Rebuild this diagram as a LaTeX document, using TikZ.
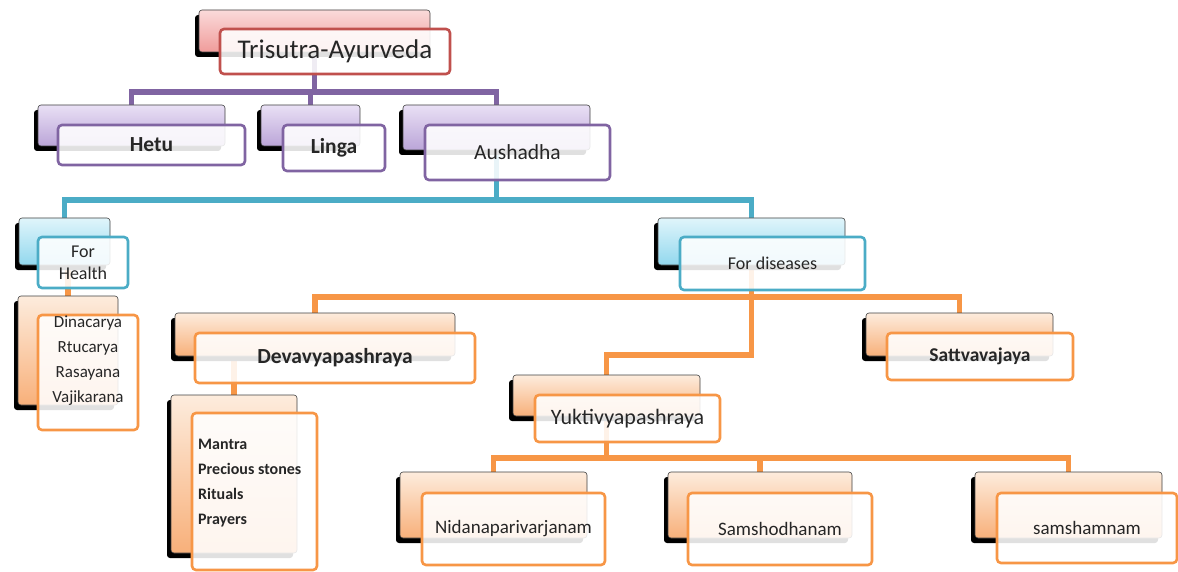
\documentclass[tikz,border=0pt]{standalone}
\usepackage{fontspec}
\setmainfont{Carlito}
\usetikzlibrary{shadows,fit}
\pgfdeclarelayer{background}
\pgfsetlayers{background,main}
\definecolor{cRed}{HTML}{C0504D}
\definecolor{cPur}{HTML}{8064A2}
\definecolor{cBlu}{HTML}{4BACC6}
\definecolor{cOra}{HTML}{F79646}
\definecolor{txt}{HTML}{262626}
\definecolor{tRed}{HTML}{FADADA}\definecolor{bRed}{HTML}{F09C9B}
\definecolor{tPur}{HTML}{E9E0F5}\definecolor{bPur}{HTML}{BBA5D8}
\definecolor{tBlu}{HTML}{E0F5FB}\definecolor{bBlu}{HTML}{92D8EE}
\definecolor{tOra}{HTML}{FDECDD}\definecolor{bOra}{HTML}{F8B07A}
\tikzset{
 backbox/.style 2 args={rectangle, rounded corners=3pt, draw=black!75, line width=0.6pt,
   top color=#1, bottom color=#2,
   drop shadow={shadow xshift=-4pt, shadow yshift=-5pt, opacity=1, fill=black},
   inner sep=0pt},
 backR/.style={backbox={tRed}{bRed}},
 backP/.style={backbox={tPur}{bPur}},
 backU/.style={backbox={tBlu}{bBlu}},
 backO/.style={backbox={tOra}{bOra}},
 frontbox/.style={rectangle, rounded corners=4pt, draw=#1, line width=2.6pt,
   fill=white, fill opacity=0.88, inner sep=0pt},
 con/.style={draw=#1, line width=5.5pt},
 lbl/.style={text=txt, inner sep=0pt, anchor=center},
 fA/.style={lbl, font=\fontsize{27}{30}\selectfont},
 fB/.style={lbl, font=\fontsize{21.5}{24}\selectfont\bfseries},
 fC/.style={lbl, font=\fontsize{21.5}{24}\selectfont},
 fD/.style={lbl, font=\fontsize{18}{22}\selectfont},
 fE/.style={lbl, font=\fontsize{19}{22}\selectfont},
 listtext/.style={font=\fontsize{17}{25}\selectfont, text=txt, inner sep=0pt},
}
\begin{document}
\begin{tikzpicture}[x=1pt,y=-1pt]
\useasboundingbox (0,0) rectangle (1178,572);
% level 0
\node[backR, fit={(199,10) (430,52)}] (topB) {};
\node[frontbox=cRed, fit={(220,29) (450,74)}] (top) {};
\node[fA] (topT) at (top.center) {Trisutra-Ayurveda};
% level 1
\node[backP, fit={(38,105) (225,146)}] (hetuB) {};
\node[frontbox=cPur, fit={(58,125) (245,165)}] (hetu) {};
\node[fB] (hetuT) at (hetu.center) {Hetu};
\node[backP, fit={(261,105) (360,146)}] (lingaB) {};
\node[frontbox=cPur, fit={(283,125) (385,171)}] (linga) {};
\node[fB] (lingaT) at (linga.center) {Linga};
\node[backP, fit={(403,105) (590,150)}] (ausB) {};
\node[frontbox=cPur, fit={(425,125) (610,180)}] (aus) {};
\node[fC] (ausT) at (aus.center) {Aushadha};
% level 2
\node[backU, fit={(19,218) (110,265)}] (healthB) {};
\node[frontbox=cBlu, fit={(38,237) (128,288)}] (health) {};
\node[fD, align=center] (healthT) at (health.center) {For\\Health};
\node[backU, fit={(658,218) (845,265)}] (disB) {};
\node[frontbox=cBlu, fit={(680,237) (865,290)}] (dis) {};
\node[fD] (disT) at (dis.center) {For diseases};
% health list
\node[backO, fit={(18,296) (118,405)}] (hlistB) {};
\node[frontbox=cOra, fit={(38,315) (138,430)}] (hlist) {};
\node[listtext, align=center, anchor=north] (hlistT) at (88,316) {Dinacarya\\Rtucarya\\Rasayana\\Vajikarana};
% level 3
\node[backO, fit={(175,313) (455,356)}] (devaB) {};
\node[frontbox=cOra, fit={(195,333) (475,383)}] (deva) {};
\node[fB] (devaT) at (deva.center) {Devavyapashraya};
\node[backO, fit={(866,313) (1053,356)}] (sattB) {};
\node[frontbox=cOra, fit={(887,333) (1073,380)}] (satt) {};
\node[fB, font=\fontsize{19.5}{22}\selectfont\bfseries] (sattT) at (satt.center) {Sattvavajaya};
\node[backO, fit={(513,375) (700,416)}] (yukB) {};
\node[frontbox=cOra, fit={(535,395) (720,442)}] (yuk) {};
\node[fC, font=\fontsize{22}{24}\selectfont] (yukT) at (yuk.center) {Yuktivyapashraya};
% deva list
\node[backO, fit={(171,395) (297,553)}] (dlistB) {};
\node[frontbox=cOra, fit={(192,413) (317,570)}] (dlist) {};
\node[listtext, font=\fontsize{16}{25}\selectfont\bfseries, align=left, anchor=north west] (dlistT) at (198,439) {Mantra\\Precious stones\\Rituals\\Prayers};
% level 4
\node[backO, fit={(400,472) (587,538)}] (nidB) {};
\node[frontbox=cOra, fit={(422,493) (605,565)}] (nid) {};
\node[fE] (nidT) at (nid.center) {Nidanaparivarjanam};
\node[backO, fit={(668,472) (852,538)}] (samoB) {};
\node[frontbox=cOra, fit={(688,493) (872,565)}] (samo) {};
\node[fE] (samoT) at (samo.center) {Samshodhanam};
\node[backO, fit={(975,472) (1162,538)}] (samaB) {};
\node[frontbox=cOra, fit={(997,493) (1177,563)}] (sama) {};
\node[fE] (samaT) at (sama.center) {samshamnam};
% connectors
\coordinate (pbus) at (0,92);
\coordinate (bbus) at (0,200);
\coordinate (obus) at (0,297);
\coordinate (ybus) at (0,355);
\coordinate (nbus) at (0,458);
\begin{pgfonlayer}{background}
\draw[con=cPur] (topB.south) -- (topB.south |- pbus);
\draw[con=cPur] (hetuB.north) |- (ausB.north |- pbus) -- (ausB.north);
\draw[con=cPur] (lingaB.north) -- (lingaB.north |- pbus);
\draw[con=cBlu] (ausB.south) -- (ausB.south |- bbus);
\draw[con=cBlu] (healthB.north) |- (disB.north |- bbus) -- (disB.north);
\draw[con=cOra] (hlistB.north) -- (hlistB.north |- healthB.south);
\draw[con=cOra] (disB.south) -- (disB.south |- obus);
\draw[con=cOra] (devaB.north) |- (sattB.north |- obus) -- (sattB.north);
\draw[con=cOra] (disB.south) |- (yukB.north |- ybus) -- (yukB.north);
\draw[con=cOra] (dlistB.north) -- (dlistB.north |- devaB.south);
\draw[con=cOra] (yukB.south) -- (yukB.south |- nbus);
\draw[con=cOra] (nidB.north) |- (samaB.north |- nbus) -- (samaB.north);
\draw[con=cOra] (samoB.north) -- (samoB.north |- nbus);
\end{pgfonlayer}
\end{tikzpicture}
\end{document}
